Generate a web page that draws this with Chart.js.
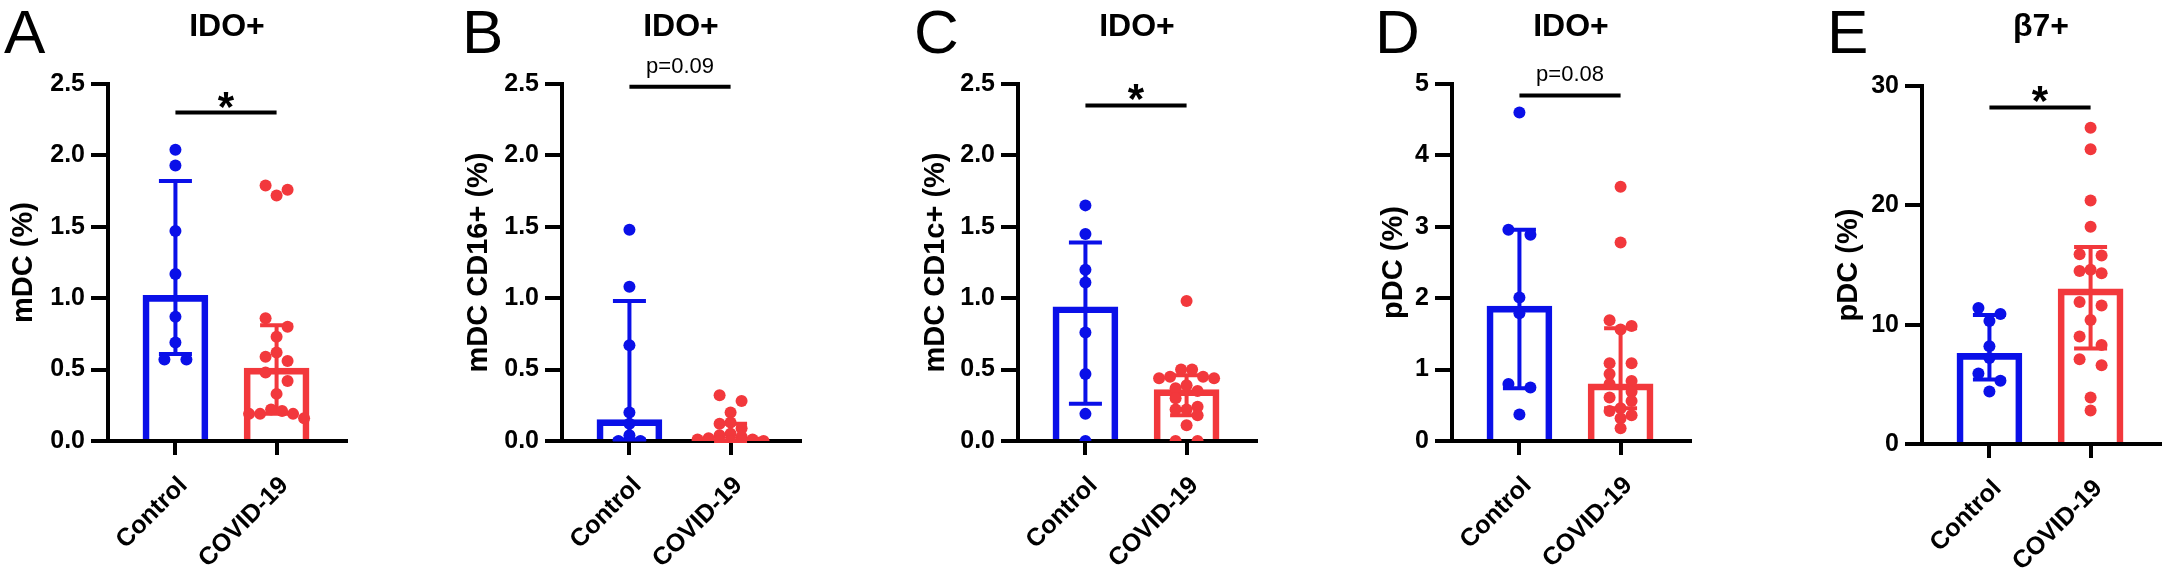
<!DOCTYPE html>
<html lang="en">
<head>
  <meta charset="utf-8">
  <title>IDO+ and β7+ dendritic cells, Control vs COVID-19</title>
  <script src="https://cdn.jsdelivr.net/npm/chart.js@4.4.1/dist/chart.umd.min.js"></script>
  <style>
    html, body { margin: 0; padding: 0; background: #fff; }
    body { width: 2168px; height: 572px; position: relative; overflow: hidden; }
    .panel { position: absolute; top: 0; width: 352px; height: 572px; }
  </style>
</head>
<body>
<div class="panel" style="left:0px"><canvas id="chartA" width="352" height="572"></canvas></div>
<div class="panel" style="left:454px"><canvas id="chartB" width="352" height="572"></canvas></div>
<div class="panel" style="left:910px"><canvas id="chartC" width="352" height="572"></canvas></div>
<div class="panel" style="left:1344px"><canvas id="chartD" width="352" height="572"></canvas></div>
<div class="panel" style="left:1814px"><canvas id="chartE" width="352" height="572"></canvas></div>

<script>
// ---- data ----
var groups = ["Control", "COVID-19"];
var letters = ["A", "B", "C", "D", "E"];
var titles = ["IDO+", "IDO+", "IDO+", "IDO+", "β7+"];
var yTitles = ["mDC (%)", "mDC CD16+ (%)", "mDC CD1c+ (%)", "pDC (%)", "pDC (%)"];
var yMax = [2.5, 2.5, 2.5, 5, 30];
var yStep = [0.5, 0.5, 0.5, 1, 10];
var yDigits = [1, 1, 1, 0, 0];

// individual donors
var aControl = [2.04, 1.93, 1.47, 1.17, 0.87, 0.69, 0.57, 0.57];
var aCovid = [1.79, 1.76, 1.72, 0.86, 0.80, 0.73, 0.62, 0.59, 0.56, 0.48, 0.42, 0.33, 0.22, 0.21, 0.19, 0.19, 0.19, 0.16];
var bControl = [1.48, 1.08, 0.67, 0.20, 0.12, 0.04, 0.0, 0.0];
var bCovid = [0.32, 0.28, 0.20, 0.13, 0.12, 0.09, 0.05, 0.04, 0.03, 0.02, 0.01, 0.01, 0.0, 0.0, 0.0, 0.0, 0.0, 0.0];
var cControl = [1.65, 1.45, 1.20, 1.11, 0.76, 0.47, 0.19, 0.0];
var cCovid = [0.98, 0.50, 0.50, 0.45, 0.45, 0.44, 0.44, 0.39, 0.37, 0.35, 0.30, 0.24, 0.22, 0.22, 0.18, 0.11, 0.0, 0.0];
var dControl = [4.60, 2.96, 2.89, 2.01, 1.79, 0.80, 0.75, 0.37];
var dCovid = [3.56, 2.78, 1.69, 1.61, 1.56, 1.09, 1.09, 0.94, 0.84, 0.80, 0.69, 0.61, 0.56, 0.46, 0.42, 0.36, 0.32, 0.18];
var eControl = [11.4, 10.9, 10.3, 8.2, 7.2, 5.9, 5.3, 4.4];
var eCovid = [26.5, 24.7, 20.4, 18.2, 15.9, 15.8, 14.6, 14.5, 14.3, 11.9, 11.6, 10.4, 9.0, 8.3, 7.1, 6.6, 3.9, 2.8];

// bar = median, whiskers = interquartile range  [Control, COVID-19]
var medians = [[1.02, 0.51], [0.15, 0.03], [0.94, 0.36], [1.89, 0.80], [7.6, 13.0]];
var q1s = [[0.61, 0.19], [0.01, 0.0], [0.26, 0.18], [0.74, 0.46], [5.4, 8.0]];
var q3s = [[1.82, 0.81], [0.98, 0.12], [1.39, 0.46], [2.96, 1.58], [10.8, 16.5]];

// significance bars
var sigY = [2.30, 2.48, 2.35, 4.84, 28.2];
var sigText = ["*", "p=0.09", "*", "p=0.08", "*"];

var controls = [aControl, bControl, cControl, dControl, eControl];
var covids = [aCovid, bCovid, cCovid, dCovid, eCovid];

// ---- layout / style ----
var ids = ["chartA", "chartB", "chartC", "chartD", "chartE"];
var letterX = [4, 8, 4, 31, 13];
var yTitlePad = [7, 8, 9, 33, 18];
var plotTop = [84, 84, 84, 84, 86];
var plotBottom = [441, 441, 441, 441, 444];

var blue = "#0a10e8";
var red = "#f2383c";
var FONT = '"Liberation Sans", Arial, Helvetica, sans-serif';
Chart.defaults.font.family = FONT;
Chart.defaults.color = "#000";

var panelPlugin = {
  id: "panel",
  afterDatasetDraw: function(chart, args, o) {
    if (args.meta.type !== "bar") return;
    var ctx = chart.ctx, xs = chart.scales.x, ys = chart.scales.y;
    var cols = [blue, red];
    ctx.save();
    ctx.lineWidth = 4;
    for (var g = 0; g < 2; g++) {
      var px = xs.getPixelForValue(g + 1);
      var top = ys.getPixelForValue(o.q3[g]);
      var bot = ys.getPixelForValue(o.q1[g]);
      ctx.strokeStyle = cols[g];
      ctx.beginPath();
      ctx.moveTo(px, top); ctx.lineTo(px, bot);
      ctx.moveTo(px - 16.5, top); ctx.lineTo(px + 16.5, top);
      ctx.moveTo(px - 16.5, bot); ctx.lineTo(px + 16.5, bot);
      ctx.stroke();
    }
    ctx.restore();
  },
  afterDraw: function(chart, args, o) {
    var ctx = chart.ctx, xs = chart.scales.x, ys = chart.scales.y, area = chart.chartArea;
    ctx.save();
    ctx.fillStyle = "#000";
    ctx.textBaseline = "alphabetic";
    // panel letter
    ctx.textAlign = "left";
    ctx.font = "62px " + FONT;
    ctx.fillText(o.letter, o.letterX, 53);
    // panel title
    ctx.textAlign = "center";
    ctx.font = "bold 32px " + FONT;
    ctx.fillText(o.title, (area.left + area.right) / 2, 36);
    // significance
    var x1 = xs.getPixelForValue(1), x2 = xs.getPixelForValue(2);
    var sy = ys.getPixelForValue(o.sigY);
    ctx.strokeStyle = "#000";
    ctx.lineWidth = 4;
    ctx.beginPath();
    ctx.moveTo(x1, sy); ctx.lineTo(x2, sy);
    ctx.stroke();
    if (o.sigText === "*") {
      ctx.font = "bold 42px " + FONT;
      ctx.fillText(o.sigText, (x1 + x2) / 2, sy + 8);
    } else {
      ctx.font = "22px " + FONT;
      ctx.fillText(o.sigText, (x1 + x2) / 2, sy - 14);
    }
    ctx.restore();
  }
};

// spread the dots sideways in rows, like a column scatter
function swarm(chart) {
  var xs = chart.scales.x, ys = chart.scales.y;
  chart.data.datasets.forEach(function(ds) {
    if (ds.type !== "scatter") return;
    var cx = xs.getPixelForValue(ds.center);
    var pts = ds.values.map(function(v, i) { return {i: i, v: v, py: ys.getPixelForValue(v)}; });
    pts.sort(function(a, b) { return a.py - b.py; });
    var rows = [], row = null;
    pts.forEach(function(p) {
      if (!row || p.py - row[0].py >= 9 || row.length >= 7) { row = [p]; rows.push(row); }
      else row.push(p);
    });
    var data = [];
    rows.forEach(function(r) {
      var n = r.length, step = n === 2 ? 22 : 11;
      var slots = [];
      for (var j = 0; j < n; j++) slots.push((j - (n - 1) / 2) * step);
      slots.sort(function(a, b) { return Math.abs(a) - Math.abs(b) || a - b; });
      r.forEach(function(p, j) {
        data[p.i] = {x: xs.getValueForPixel(cx + slots[j]), y: p.v};
      });
    });
    ds.data = data;
  });
  chart.update("none");
}

function makeChart(i) {
  var dig = yDigits[i];
  var bottom = plotBottom[i];
  var chart = new Chart(ids[i], {
    type: "bar",
    data: {
      datasets: [
        {
          type: "bar",
          data: [{x: 1, y: medians[i][0]}, {x: 2, y: medians[i][1]}],
          backgroundColor: "rgba(255,255,255,0)",
          borderColor: [blue, red],
          borderWidth: 6,
          borderSkipped: "start",
          barThickness: 65,
          order: 2
        },
        {
          type: "scatter", center: 1, values: controls[i],
          data: controls[i].map(function(v) { return {x: 1, y: v}; }),
          backgroundColor: blue, pointRadius: 6, pointBorderWidth: 0, order: 1
        },
        {
          type: "scatter", center: 2, values: covids[i],
          data: covids[i].map(function(v) { return {x: 2, y: v}; }),
          backgroundColor: red, pointRadius: 6, pointBorderWidth: 0, order: 0
        }
      ]
    },
    options: {
      responsive: false,
      animation: false,
      layout: { padding: { top: plotTop[i], right: 1, bottom: 0, left: 0 } },
      scales: {
        x: {
          type: "linear",
          offset: false,
          min: 1 - 68 / 102,
          max: 2 + 70 / 102,
          afterBuildTicks: function(s) { s.ticks = [{value: 1}, {value: 2}]; },
          afterFit: function(s) {
            s.height = 572 - bottom;
            // rotated labels stay inside the panel, no extra side room needed
            s.paddingLeft = 0;
            s.paddingRight = 0;
          },
          ticks: {
            autoSkip: false,
            minRotation: 45,
            maxRotation: 45,
            padding: 16,
            labelOffset: 8,
            font: { size: 25, weight: "bold" },
            callback: function(v) { return groups[Math.round(v) - 1]; }
          },
          grid: { drawOnChartArea: false, offset: false, color: "#000", lineWidth: 4, tickLength: 14 },
          border: { color: "#000", width: 4 }
        },
        y: {
          min: 0,
          max: yMax[i],
          afterFit: function(s) { s.width = 108; },
          ticks: {
            stepSize: yStep[i],
            padding: 6,
            font: { size: 25, weight: "bold" },
            callback: function(v) { return v.toFixed(dig); }
          },
          grid: { drawOnChartArea: false, color: "#000", lineWidth: 4, tickLength: 17 },
          border: { color: "#000", width: 4 },
          title: {
            display: true,
            text: yTitles[i],
            font: { size: 29, weight: "bold" },
            padding: { top: yTitlePad[i], bottom: 0 }
          }
        }
      },
      plugins: {
        legend: { display: false },
        tooltip: { enabled: false },
        panel: {
          letter: letters[i], letterX: letterX[i], title: titles[i],
          q1: q1s[i], q3: q3s[i], sigY: sigY[i], sigText: sigText[i]
        }
      }
    },
    plugins: [panelPlugin]
  });
  swarm(chart);
}

for (var i = 0; i < 5; i++) makeChart(i);
</script>
</body>
</html>
